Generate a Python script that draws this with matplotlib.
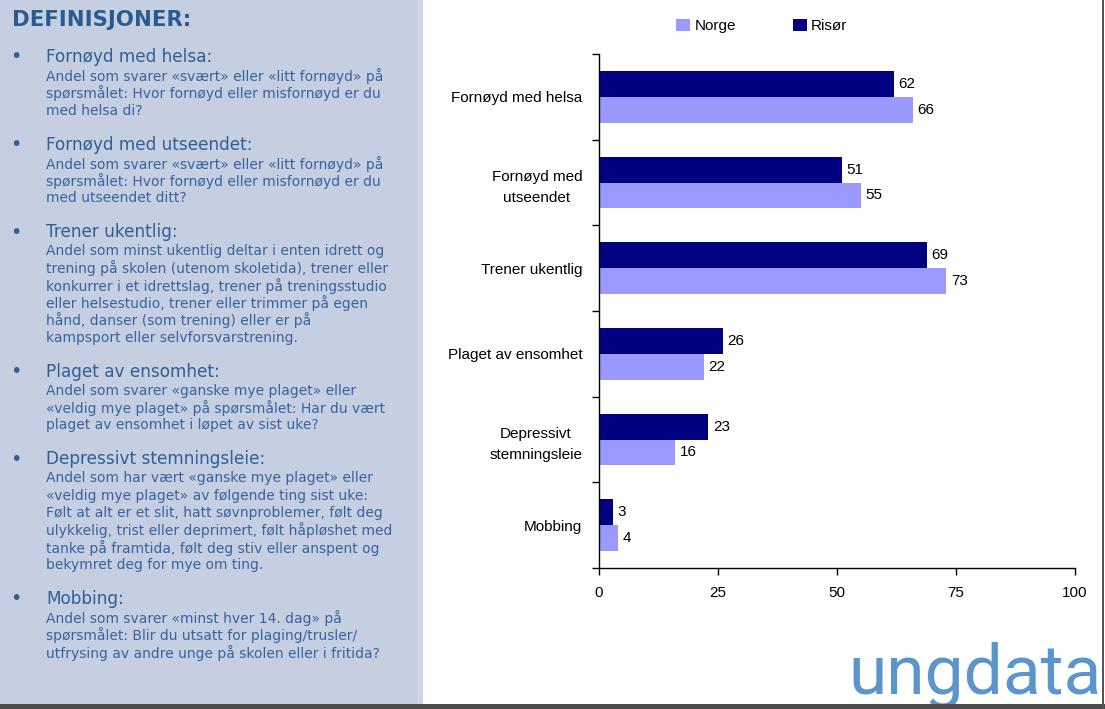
import matplotlib
matplotlib.use("Agg")
import matplotlib.pyplot as plt
import numpy as np
from matplotlib.patches import Rectangle

# data
categories = ["Fornøyd med helsa", "Fornøyd med\nutseendet", "Trener ukentlig",
              "Plaget av ensomhet", "Depressivt\nstemningsleie", "Mobbing"]
norge = [66, 55, 73, 22, 16, 4]
risor = [62, 51, 69, 26, 23, 3]
x_ticks = [0, 25, 50, 75, 100]

title = "DEFINISJONER:"
headings = ["Fornøyd med helsa:", "Fornøyd med utseendet:", "Trener ukentlig:",
            "Plaget av ensomhet:", "Depressivt stemningsleie:", "Mobbing:"]
bodies = [
    ["Andel som svarer «svært» eller «litt fornøyd» på",
     "spørsmålet: Hvor fornøyd eller misfornøyd er du",
     "med helsa di?"],
    ["Andel som svarer «svært» eller «litt fornøyd» på",
     "spørsmålet: Hvor fornøyd eller misfornøyd er du",
     "med utseendet ditt?"],
    ["Andel som minst ukentlig deltar i enten idrett og",
     "trening på skolen (utenom skoletida), trener eller",
     "konkurrer i et idrettslag, trener på treningsstudio",
     "eller helsestudio, trener eller trimmer på egen",
     "hånd, danser (som trening) eller er på",
     "kampsport eller selvforsvarstrening."],
    ["Andel som svarer «ganske mye plaget» eller",
     "«veldig mye plaget» på spørsmålet: Har du vært",
     "plaget av ensomhet i løpet av sist uke?"],
    ["Andel som har vært «ganske mye plaget» eller",
     "«veldig mye plaget» av følgende ting sist uke:",
     "Følt at alt er et slit, hatt søvnproblemer, følt deg",
     "ulykkelig, trist eller deprimert, følt håpløshet med",
     "tanke på framtida, følt deg stiv eller anspent og",
     "bekymret deg for mye om ting."],
    ["Andel som svarer «minst hver 14. dag» på",
     "spørsmålet: Blir du utsatt for plaging/trusler/",
     "utfrysing av andre unge på skolen eller i fritida?"],
]

W, H = 1105, 709
fig = plt.figure(figsize=(W / 100, H / 100), dpi=100)
fig.patch.set_facecolor("white")


def fx(px):
    return px / W


def fy(py):
    return 1 - py / H


# left panel background
fig.patches.append(Rectangle((0, 0), fx(417), 1, transform=fig.transFigure,
                             facecolor="#C5CFE1", edgecolor="none", zorder=0))
fig.patches.append(Rectangle((fx(417), 0), fx(6), 1, transform=fig.transFigure,
                             facecolor="#CDD6E6", edgecolor="none", zorder=0))
# bottom strip and right border
fig.patches.append(Rectangle((0, 0), 1, 5 / H, transform=fig.transFigure,
                             facecolor="#4D4D4D", edgecolor="none", zorder=5))
fig.patches.append(Rectangle((fx(1102), 0), fx(2), 1, transform=fig.transFigure,
                             facecolor="#555555", edgecolor="none", zorder=5))

# definitions text
title_col = "#2A5A92"
head_col = "#2F5F96"
body_col = "#3A62A0"
fig.text(fx(12), fy(20), title, fontsize=15.3, fontweight="bold", color=title_col,
         family="DejaVu Sans", va="center", ha="left")
y = 57
for head, lines in zip(headings, bodies):
    fig.text(fx(10), fy(y), "•", fontsize=14, color=head_col, va="center", ha="left")
    fig.text(fx(46), fy(y), head, fontsize=12.2, color=head_col,
             family="DejaVu Sans", va="center", ha="left")
    y += 19
    for ln in lines:
        fig.text(fx(46), fy(y), ln, fontsize=10, color=body_col,
                 family="DejaVu Sans", va="center", ha="left")
        y += 17.35
    y += 16.5

# bar chart
ax = fig.add_axes([fx(599), fy(568), fx(1075 - 599), (568 - 54) / H])
pos = np.arange(len(categories))
bh = 0.3
b_r = ax.barh(pos - bh / 2, risor, height=bh, color="#000080", label="Risør")
b_n = ax.barh(pos + bh / 2, norge, height=bh, color="#9999FF", label="Norge")

for bars, vals in ((b_r, risor), (b_n, norge)):
    for b, v in zip(bars, vals):
        ax.text(v + 0.9, b.get_y() + b.get_height() / 2, f"{v}", va="center",
                ha="left", fontsize=11, family="Liberation Sans", color="black")

ax.set_xlim(0, 100)
ax.set_ylim(len(categories) - 0.5, -0.5)
ax.set_xticks(x_ticks)
ax.set_xticklabels([str(t) for t in x_ticks], fontsize=11, family="Liberation Sans")
ax.set_yticks(np.arange(len(categories) + 1) - 0.5)
ax.set_yticklabels([])
ax.set_yticks(pos, minor=True)
ax.set_yticklabels(categories, minor=True, fontsize=11, family="Liberation Sans",
                   multialignment="center", linespacing=1.6)
ax.tick_params(axis="y", which="minor", length=0, pad=12)
ax.tick_params(axis="y", which="major", length=5, width=1, direction="out")
ax.tick_params(axis="x", length=5, width=1, direction="out", pad=8)
ax.spines["top"].set_visible(False)
ax.spines["right"].set_visible(False)
ax.spines["left"].set_linewidth(1)
ax.spines["bottom"].set_linewidth(1)

leg = ax.legend(handles=[b_n, b_r], labels=["Norge", "Risør"], loc="center",
                bbox_to_anchor=(fx(762), fy(26)), bbox_transform=fig.transFigure,
                ncol=2, frameon=False, prop={"family": "Liberation Sans", "size": 11},
                handlelength=0.9, handleheight=0.9, handletextpad=0.3, columnspacing=3.7)

# logo
fig.text(fx(848), fy(693), "ungdata", fontsize=50, color="#5B95CC",
         family=["Roboto", "DejaVu Sans"], fontweight="normal", va="baseline", ha="left")

fig.savefig("out.png", dpi=100)
